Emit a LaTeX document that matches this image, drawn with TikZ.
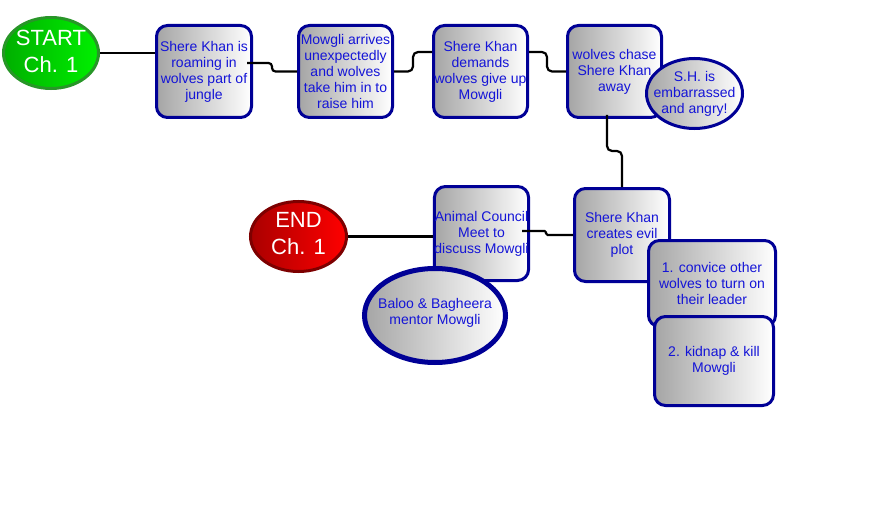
\documentclass[tikz,border=0pt]{standalone}
\usepackage{fontspec}
\setmainfont{Liberation Sans}
\usetikzlibrary{shapes.geometric,calc}
\definecolor{navy}{RGB}{0,0,150}
\definecolor{txtblue}{RGB}{20,20,215}
\definecolor{boxgray}{RGB}{165,165,165}
\definecolor{gdark}{RGB}{0,175,0}
\definecolor{glight}{RGB}{0,240,0}
\definecolor{gborder}{RGB}{40,150,40}
\definecolor{rdark}{RGB}{170,0,0}
\definecolor{rlight}{RGB}{255,0,0}
\definecolor{rborder}{RGB}{125,0,0}
\begin{document}
\begin{tikzpicture}[x=1pt,y=-1pt,
  card/.style={rectangle, rounded corners=11pt, draw=navy, line width=3pt,
    left color=boxgray, right color=white, text=txtblue, align=center,
    font=\fontsize{14}{16}\selectfont, inner sep=0pt},
  bubble/.style={ellipse, draw=navy, line width=3pt,
    left color=boxgray, right color=white, inner sep=0pt},
  btext/.style={text=txtblue, align=center, font=\fontsize{14}{16}\selectfont, inner sep=0pt},
  big/.style={ellipse, line width=3pt, inner sep=0pt},
  bigtext/.style={text=white, align=center, font=\fontsize{22}{27}\selectfont, inner sep=0pt},
  conn/.style={draw=black, line width=2.2pt, rounded corners=5pt}]
\useasboundingbox[fill=white] (0,0) rectangle (878,508);

% top row
\node[card, minimum width=95, minimum height=92] (b1) at (204,71.5) {Shere Khan is\\roaming in\\wolves part of\\jungle};
\node[card, minimum width=94, minimum height=92] (b2) at (345.5,71.5) {Mowgli arrives\\unexpectedly\\and wolves\\take him in to\\raise him};
\node[card, minimum width=94, minimum height=92] (b3) at (480.5,71.5) {Shere Khan\\demands\\wolves give up\\Mowgli};
\node[card, minimum width=94, minimum height=92] (b4) at (614.5,71.5) {wolves chase\\Shere Khan\\away};
\node[bubble, minimum width=96, minimum height=70,
  label={[btext]center:S.H. is\\embarrassed\\and angry!}] (sh) at (694.5,93.5) {};

% second row
\node[card, minimum width=95, minimum height=93] (b5) at (622,235) {Shere Khan\\creates evil\\plot};
\node[card, minimum width=127, minimum height=86] (b6) at (712,283.5) {1. convice other\\wolves to turn on\\their leader};
\node[card, minimum width=119, minimum height=89] (b7) at (714,361) {2. kidnap \& kill\\Mowgli};
\node[card, minimum width=94, minimum height=94] (ac) at (481.5,233.5) {Animal Council\\Meet to\\discuss Mowgli};
\node[bubble, line width=5pt, minimum width=141, minimum height=94,
  label={[btext, yshift=2.5pt]center:Baloo \& Bagheera\\mentor Mowgli}] (baloo) at (435,315.5) {};

% start / end
\node[big, draw=gborder, left color=gdark, right color=glight, minimum width=95, minimum height=71,
  label={[bigtext, yshift=1.5pt]center:START\\Ch. 1}] (start) at (51,53) {};
\node[big, draw=rborder, left color=rdark, right color=rlight, minimum width=96, minimum height=70,
  label={[bigtext, yshift=3pt]center:END\\Ch. 1}] (end) at (298.5,236.5) {};

% connectors
\draw[conn] (start.east) -- (start.east -| b1.west);
\draw[conn, rounded corners=3.5pt] ($(b1.east)+(-6,-8.5)$) -- ++(25,0) |- (b2.west);
\draw[conn] (b2.east) -- ++(19,0) |- ($(b3.west)+(0,-19.5)$);
\draw[conn] ($(b3.east)+(0,-19.5)$) -- ++(18,0) |- (b4.west);
\draw[conn] ($(b4.south)+(-7.5,-4)$) -- ++(0,36) -| (b5.north);
\draw[conn, rounded corners=1.5pt] ($(ac.east)+(-8,-2.5)$) -- ++(24,0) |- (b5.west);
\draw[conn] (end.east) -- (end.east -| ac.west);
\end{tikzpicture}
\end{document}
